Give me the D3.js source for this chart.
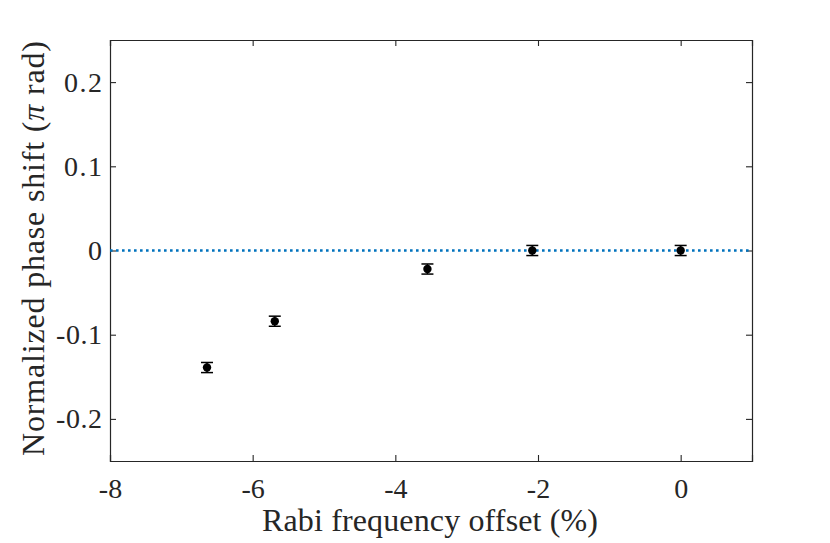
<!DOCTYPE html>
<html><head><meta charset="utf-8">
<script src="https://cdn.jsdelivr.net/npm/d3@7"></script>
<style>body{margin:0;background:#fff}svg{display:block}text{font-family:"Liberation Serif","DejaVu Serif",serif;fill:#262626}</style>
</head><body>
<svg id="c" width="830" height="543"></svg>
<script>
const xValues = [-6.64, -5.69, -3.55, -2.08, 0.0];
const yValues = [-0.139, -0.084, -0.022, 0.000, 0.000];
const yErrors = [0.006, 0.006, 0.006, 0.006, 0.006];
const xTicks = [-8, -6, -4, -2, 0];
const yTicks = [-0.2, -0.1, 0, 0.1, 0.2];
const xLabel = "Rabi frequency offset (%)";

const svg = d3.select("#c");
const L = 110, R = 752, T = 40, B = 461;
const x = d3.scaleLinear().domain([-8, 1]).range([L, R]);
const y = d3.scaleLinear().domain([-0.25, 0.25]).range([B, T]);
const axisColor = "#262626";
const fmtX = d => String(d);
const fmtY = d => d === 0 ? "0" : d.toFixed(1);

const gx = svg.append("g").attr("transform", `translate(0,${B})`)
  .call(d3.axisBottom(x).tickValues(xTicks).tickSize(-6).tickPadding(17).tickFormat(fmtX));
const gxt = svg.append("g").attr("transform", `translate(0,${T})`)
  .call(d3.axisTop(x).tickValues(xTicks).tickSize(-6).tickFormat(""));
const gy = svg.append("g").attr("transform", `translate(${L},0)`)
  .call(d3.axisLeft(y).tickValues(yTicks).tickSize(-6).tickPadding(8).tickFormat(fmtY));
const gyr = svg.append("g").attr("transform", `translate(${R},0)`)
  .call(d3.axisRight(y).tickValues(yTicks).tickSize(-6).tickFormat(""));
[gx, gxt, gy, gyr].forEach(g => {
  g.selectAll("path.domain").attr("stroke", axisColor).attr("stroke-width", 1.2);
  g.selectAll(".tick line").attr("stroke", axisColor).attr("stroke-width", 1.1);
  g.selectAll(".tick text").attr("fill", axisColor).style("font-size", "28px")
    .style("font-family", '"Liberation Serif","DejaVu Serif",serif');
});
gx.selectAll(".tick text").attr("dy", "0.71em");
gy.selectAll(".tick text").attr("textLength", d => d === 0 ? null : (d < 0 ? 46 : 38)).attr("lengthAdjust", "spacing");

svg.append("line")
  .attr("x1", x(-8)).attr("x2", x(1)).attr("y1", y(0)).attr("y2", y(0))
  .attr("stroke", "#0072BD").attr("stroke-width", 2.6).attr("stroke-dasharray", "2.6,3.4");

const pts = xValues.map((v, i) => ({x: v, y: yValues[i], e: yErrors[i]}));
const eb = svg.append("g").attr("stroke", "#000").attr("stroke-width", 1.5);
pts.forEach(p => {
  eb.append("line").attr("x1", x(p.x)).attr("x2", x(p.x)).attr("y1", y(p.y - p.e)).attr("y2", y(p.y + p.e));
  [p.y - p.e, p.y + p.e].forEach(v => eb.append("line")
    .attr("x1", x(p.x) - 6).attr("x2", x(p.x) + 6).attr("y1", y(v)).attr("y2", y(v)));
});
svg.append("g").selectAll("circle").data(pts).join("circle")
  .attr("cx", d => x(d.x)).attr("cy", d => y(d.y)).attr("r", 4.2).attr("fill", "#000");

svg.append("text").attr("x", 262).attr("y", 531)
  .attr("textLength", 336).attr("lengthAdjust", "spacing")
  .style("font-size", "32px").text(xLabel);
const yl = svg.append("text").attr("transform", `translate(44,456) rotate(-90)`)
  .attr("textLength", 415).attr("lengthAdjust", "spacing").style("font-size", "32px");
yl.append("tspan").text("Normalized phase shift (");
yl.append("tspan").style("font-style", "italic").text("π");
yl.append("tspan").text(" rad)");
</script>
</body></html>
